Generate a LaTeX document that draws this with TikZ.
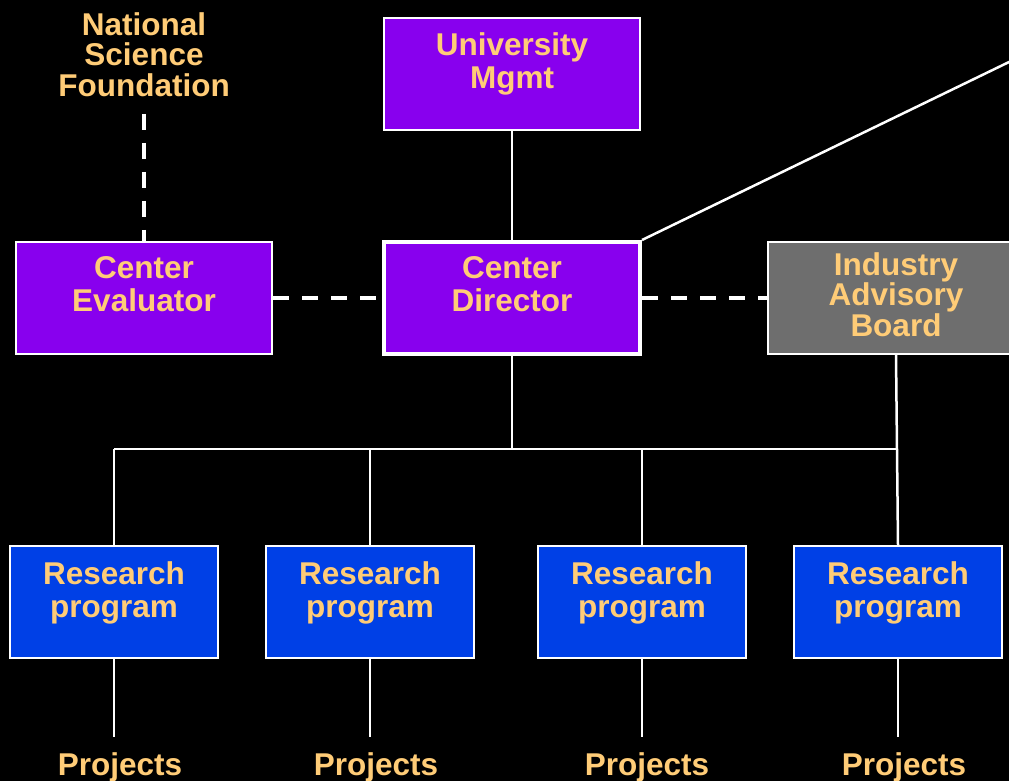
\documentclass[tikz,border=0pt]{standalone}
\usepackage{fontspec}
\setmainfont{Liberation Sans}
\definecolor{boxviolet}{HTML}{8800EE}
\definecolor{boxblue}{HTML}{0040E6}
\definecolor{boxgrey}{HTML}{6E6E6E}
\definecolor{labelgold}{HTML}{FFCC77}
\begin{document}
\begin{tikzpicture}[x=1pt,y=1pt,
    box/.style={draw=white,line width=2pt,inner sep=0pt,minimum width=256pt,minimum height=112pt},
    progbox/.style={box,fill=boxblue,minimum width=208pt},
    words/.style={text=labelgold,font=\fontsize{31.5}{33}\selectfont\bfseries,align=center,inner sep=0pt,anchor=north},
    tightwords/.style={words,font=\fontsize{31.5}{30.5}\selectfont\bfseries},
    link/.style={draw=white,line width=2.5pt},
    dashlink/.style={draw=white,line width=4pt,dash pattern=on 16pt off 13pt}]
  \useasboundingbox (0,0) rectangle (1009,-781);
  \fill [black] (0,0) rectangle (1009,-781);
  \clip (0,0) rectangle (1009,-781);
  \node [box,fill=boxviolet] (univ) at (512,-74) {};
  \node [box,fill=boxviolet] (eval) at (144,-298) {};
  \node [box,fill=boxviolet,line width=4pt] (cd) at (512,-298) {};
  \node [box,fill=boxgrey] (iab) at (896,-298) {};
  \node [progbox] (rp1) at (114,-602) {};
  \node [progbox] (rp2) at (370,-602) {};
  \node [progbox] (rp3) at (642,-602) {};
  \node [progbox] (rp4) at (898,-602) {};
  \node [words] (univ-t) at (512,-32) {University\\Mgmt};
  \node [words] (eval-t) at (144,-256) {Center\\Evaluator};
  \node [words] (cd-t) at (512,-256) {Center\\Director};
  \node [tightwords] (iab-t) at (896,-252) {Industry\\Advisory\\Board};
  \node [tightwords,anchor=center,inner ysep=17pt] (nsf) at (144,-54.5) {National\\Science\\Foundation};
  \node [words] (rp1-t) at (114,-561) {Research\\program};
  \node [words] (rp2-t) at (370,-561) {Research\\program};
  \node [words] (rp3-t) at (642,-561) {Research\\program};
  \node [words] (rp4-t) at (898,-561) {Research\\program};
  \node [words,anchor=base,inner ysep=15pt] (proj1) at (120,-775) {Projects};
  \node [words,anchor=base,inner ysep=15pt] (proj2) at (376,-775) {Projects};
  \node [words,anchor=base,inner ysep=15pt] (proj3) at (647,-775) {Projects};
  \node [words,anchor=base,inner ysep=15pt] (proj4) at (904,-775) {Projects};
  \coordinate (busl) at (114,-449);
  \coordinate (busr) at (896,-449);
  \coordinate (offedge) at (1040,-47);
  \draw [link] (univ) -- (cd);
  \draw [link] (cd.north east) -- (offedge);
  \draw [dashlink] (nsf.south) -- (eval.north);
  \draw [dashlink] (eval.east) -- (cd.west);
  \draw [dashlink] (cd.east) -- (iab.west);
  \draw [link] (busl) -- (busr);
  \draw [link] (cd.south) -- (cd.south |- busl);
  \draw [link] (iab.south) -- (rp4.north);
  \draw [link] (rp1.north) -- (busl);
  \draw [link] (rp2.north) -- (rp2.north |- busl);
  \draw [link] (rp3.north) -- (rp3.north |- busl);
  \draw [link] (rp1.south) -- (rp1.south |- proj1.north);
  \draw [link] (rp2.south) -- (rp2.south |- proj2.north);
  \draw [link] (rp3.south) -- (rp3.south |- proj3.north);
  \draw [link] (rp4.south) -- (rp4.south |- proj4.north);
\end{tikzpicture}
\end{document}
